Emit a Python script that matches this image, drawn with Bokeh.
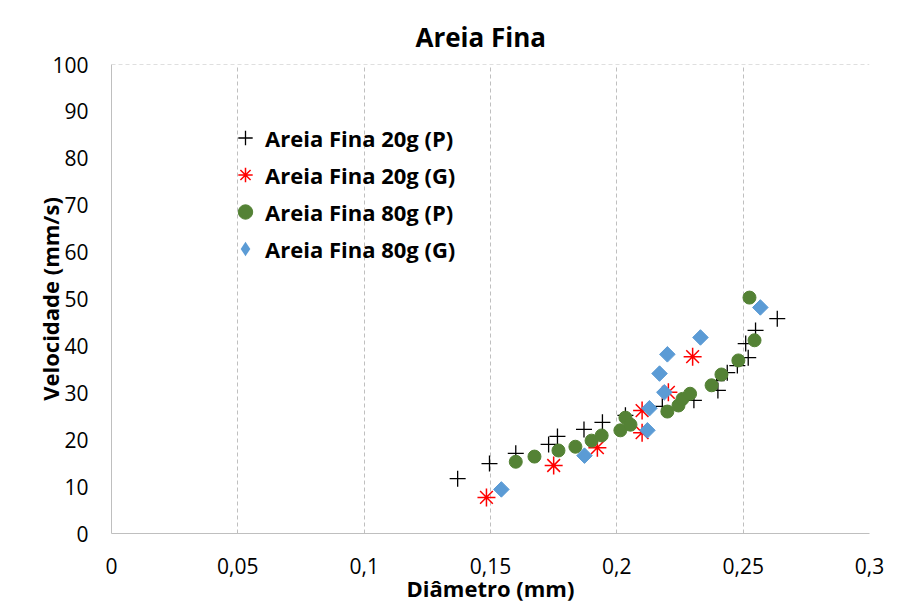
from bokeh.plotting import figure
from bokeh.models import (Range1d, Legend, LegendItem, FixedTicker, CustomJSTickFormatter, Span)
from bokeh.embed import file_html
from bokeh.resources import INLINE

# ---- data ----
p20_x = [0.137, 0.1496, 0.160, 0.173, 0.1765, 0.187, 0.1943, 0.2034, 0.218, 0.2305,
         0.240, 0.2395, 0.2437, 0.2477, 0.252, 0.251, 0.2549, 0.2635]
p20_y = [11.7, 14.9, 17.1, 19.0, 20.7, 22.2, 23.7, 25.2, 27.1, 28.4,
         30.5, 32.6, 34.3, 35.8, 37.5, 40.5, 43.3, 45.8]

g20_x = [0.1484, 0.175, 0.1923, 0.210, 0.210, 0.2204, 0.230]
g20_y = [7.7, 14.5, 18.3, 21.5, 26.2, 30.1, 37.7]

p80_x = [0.160, 0.1674, 0.1769, 0.1836, 0.190, 0.194, 0.2014, 0.2034, 0.2054, 0.220,
         0.2244, 0.226, 0.229, 0.2375, 0.2414, 0.2481, 0.2545, 0.2525]
p80_y = [15.3, 16.4, 17.7, 18.5, 19.8, 20.9, 22.0, 24.7, 23.2, 26.0,
         27.3, 28.7, 29.8, 31.6, 33.9, 36.9, 41.2, 50.3]

g80_x = [0.1543, 0.1872, 0.2121, 0.2129, 0.2188, 0.2169, 0.220, 0.2331, 0.2568]
g80_y = [9.4, 16.6, 22.0, 26.7, 30.1, 34.1, 38.2, 41.8, 48.2]

labels = ["Areia Fina 20g (P)", "Areia Fina 20g (G)", "Areia Fina 80g (P)", "Areia Fina 80g (G)"]
x_ticks = [0, 0.05, 0.1, 0.15, 0.2, 0.25, 0.3]
y_ticks = [0, 10, 20, 30, 40, 50, 60, 70, 80, 90, 100]
title_text = "Areia Fina"
x_title = "Diâmetro (mm)"
y_title = "Velocidade (mm/s)"

FONT = "Open Sans"

p = figure(width=896, height=606, output_backend="svg", toolbar_location=None,
           x_range=Range1d(0, 0.3), y_range=Range1d(0, 100),
           min_border_left=111, min_border_right=27, min_border_top=64, min_border_bottom=73)

p.title.text = title_text
p.title.align = "left"
p.title.offset = 304
p.title.standoff = 19
p.title.text_font = FONT
p.title.text_font_size = "26px"
p.title.text_font_style = "bold"
p.title.text_color = "black"

p.outline_line_color = None
p.background_fill_color = "white"
p.border_fill_color = "white"

p.xaxis.ticker = FixedTicker(ticks=x_ticks)
p.yaxis.ticker = FixedTicker(ticks=y_ticks)
p.xaxis.formatter = CustomJSTickFormatter(code="""
let s = tick.toFixed(2).replace(/0+$/, '').replace(/\\.$/, '');
return s.replace('.', ',');
""")

for ax in (p.xaxis[0], p.yaxis[0]):
    ax.major_tick_line_color = None
    ax.minor_tick_line_color = None
    ax.axis_line_color = "#bfbfbf"
    ax.major_label_text_font = FONT
    ax.major_label_text_font_size = "21px"
    ax.major_label_text_color = "black"
    ax.axis_label_text_font = FONT
    ax.axis_label_text_font_size = "22px"
    ax.axis_label_text_font_style = "bold"
    ax.axis_label_text_color = "black"

p.xaxis.axis_label = x_title
p.yaxis.axis_label = y_title
p.xaxis.major_label_standoff = 18
p.xaxis.axis_label_standoff = -4
p.yaxis.major_label_standoff = 17
p.yaxis.axis_label_standoff = -16

p.ygrid.grid_line_color = None
p.xgrid.grid_line_color = "#bfbfbf"
p.xgrid.grid_line_dash = "4 3"
p.xgrid.ticker = FixedTicker(ticks=x_ticks)

top = Span(location=100, dimension="width", line_color="#bfbfbf", line_dash="4 3", line_width=1)
p.add_layout(top)

r1 = p.scatter(p20_x, p20_y, marker="cross", size=16, line_color="black", line_width=1.3)
r2 = p.scatter(g20_x, g20_y, marker="asterisk", size=18, line_color="#ff0000", line_width=1.5)
r3 = p.scatter(p80_x, p80_y, marker="circle", size=13, fill_color="#548235", line_color="#548235")
r4 = p.scatter(g80_x, g80_y, marker="square", size=11, angle=0.785398,
               fill_color="#5b9bd5", line_color="#5b9bd5")
# legend glyph for the diamonds (legend markers are drawn without rotation)
r4_leg = p.scatter(g80_x, g80_y, marker="diamond", size=0, fill_color="#5b9bd5", line_color=None)

legend = Legend(items=[LegendItem(label=labels[0], renderers=[r1]),
                       LegendItem(label=labels[1], renderers=[r2]),
                       LegendItem(label=labels[2], renderers=[r3]),
                       LegendItem(label=labels[3], renderers=[r4_leg])],
                location=(116, 266))
legend.padding = 0
legend.margin = 0
legend.background_fill_alpha = 0
legend.border_line_color = None
legend.label_text_font = FONT
legend.label_text_font_size = "22px"
legend.label_text_font_style = "bold"
legend.label_text_color = "black"
legend.label_height = 37
legend.glyph_height = 37
legend.glyph_width = 36
legend.spacing = 0
legend.label_standoff = 2
p.add_layout(legend)

open("out.html", "w").write(file_html(p, INLINE))
